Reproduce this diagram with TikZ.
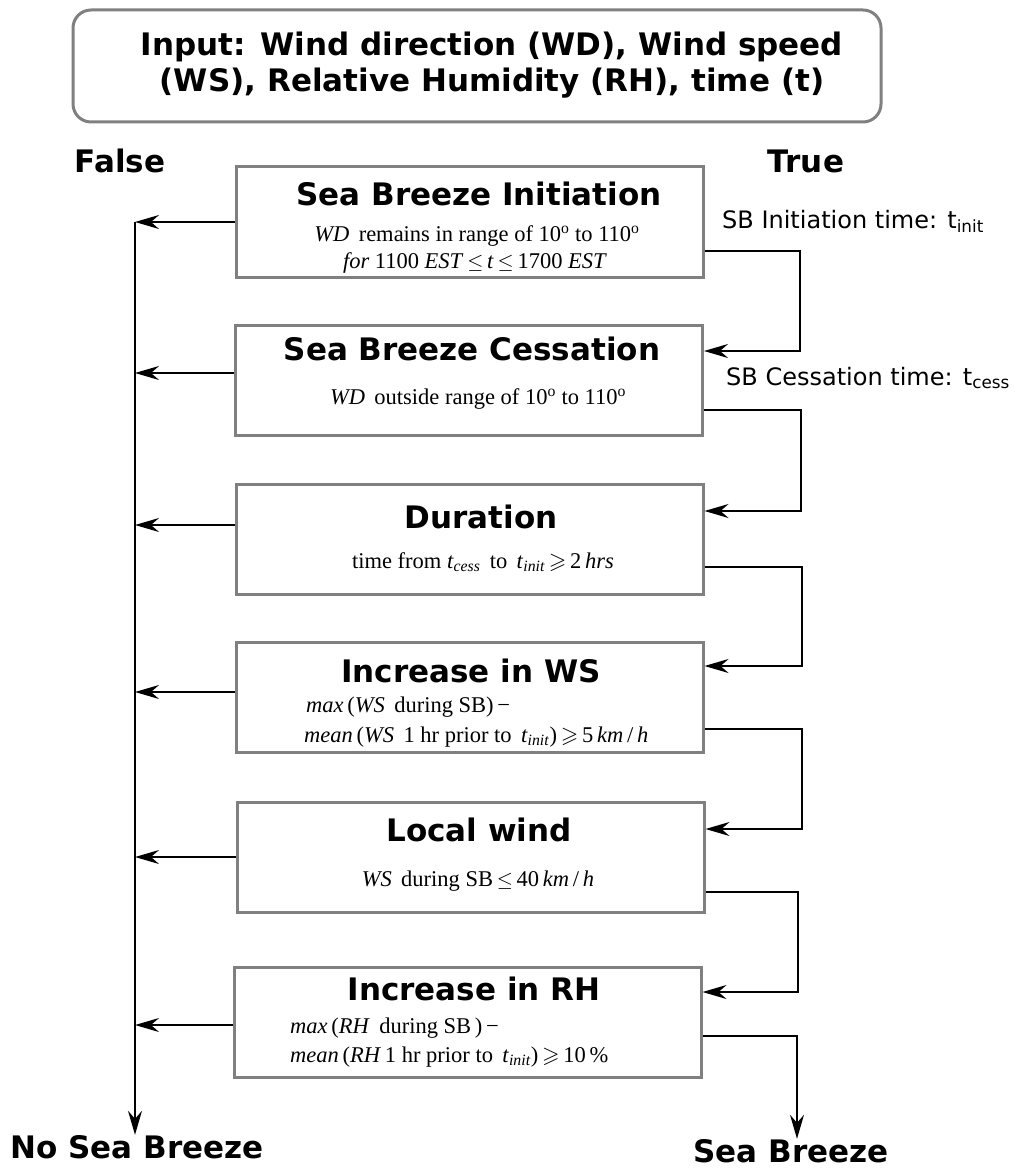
\documentclass[tikz,border=0pt]{standalone}
\usepackage{fontspec}
\usepackage{amssymb}
\setmainfont{Liberation Serif}
\newfontfamily\headfont{DejaVu Sans}
\usetikzlibrary{arrows.meta}
\definecolor{boxgray}{RGB}{128,128,128}
\tikzset{
  box/.style={draw=boxgray, line width=3pt, minimum width=467pt, minimum height=110pt, inner sep=0pt},
  head/.style={font=\headfont\bfseries\fontsize{31}{36}\selectfont, inner sep=0pt, anchor=base},
  body/.style={font=\fontsize{22.5}{27}\selectfont, inner sep=0pt, anchor=base},
  bodyl/.style={body, anchor=base west},
  lbl/.style={font=\headfont\fontsize{24}{28}\selectfont, inner sep=0pt, anchor=base west},
  flow/.style={line width=1.5pt, -{Stealth[length=24pt,width=14pt,inset=8pt]}},
}
\begin{document}
\begin{tikzpicture}[x=1pt,y=-1pt]
\useasboundingbox (0,0) rectangle (1016,1169);
\node[draw=boxgray, line width=3pt, rounded corners=18pt, minimum width=808pt, minimum height=112pt] (inbox) at (477,66){};
\node[head, anchor=center, align=center] (intxt) at (492,65){Input: Wind direction (WD), Wind speed\\(WS), Relative Humidity (RH), time (t)};
\node[head] (false) at (120,173){False};
\node[head] (true) at (806,173){True};
\node[box] (b1) at (469.5,222){};
\node[head] (h1) at (479,205){Sea Breeze Initiation};
\node[body] (d1a) at (477,241){\textit{WD}\, remains in range of 10\textsuperscript{o} to 110\textsuperscript{o}};
\node[body] (d1b) at (475,268){\textit{for} 1100 \textit{EST}\,$\leq$\,\textit{t}\,$\leq$\,1700 \textit{EST}};
\node[box] (b2) at (469,380){};
\node[head] (h2) at (472,360){Sea Breeze Cessation};
\node[body] (d2a) at (478,404){\textit{WD}\, outside range of 10\textsuperscript{o} to 110\textsuperscript{o}};
\node[box] (b3) at (469.5,539){};
\node[head] (h3) at (481,528){Duration};
\node[body] (d3a) at (483,568){time from \textit{t}\textsubscript{\textit{cess}}\, to \,\textit{t}\textsubscript{\textit{init}}\,$\geqslant$\,2\,\textit{hrs}};
\node[box] (b4) at (469.5,697){};
\node[head] (h4) at (471,682){Increase in WS};
\node[bodyl] (d4a) at (306,712){\textit{max}\,(\textit{WS}\, during SB)\,−};
\node[bodyl] (d4b) at (304,742){\textit{mean}\,(\textit{WS}\, 1 hr prior to \,\textit{t}\textsubscript{\textit{init}})\,$\geqslant$\,5\,\textit{km}\,/\,\textit{h}};
\node[box] (b5) at (470.5,857.5){};
\node[head] (h5) at (479,841){Local wind};
\node[body] (d5a) at (478,886){\textit{WS}\, during SB\,$\leq$\,40\,\textit{km}\,/\,\textit{h}};
\node[box] (b6) at (467.5,1022.5){};
\node[head] (h6) at (474,1000){Increase in RH};
\node[bodyl] (d6a) at (290,1033){\textit{max}\,(\textit{RH}\, during SB\,)\,−};
\node[bodyl] (d6b) at (290,1062){\textit{mean}\,(\textit{RH}\,1 hr prior to \,\textit{t}\textsubscript{\textit{init}})\,$\geqslant$\,10\,\%};
\node[lbl] (tinit) at (722,228){SB Initiation time: t\textsubscript{init}};
\node[lbl] (tcess) at (726,385){SB Cessation time: t\textsubscript{cess}};
\node[head] (nosb) at (137,1158){No Sea Breeze};
\node[head] (sb) at (791,1162){Sea Breeze};
\coordinate (f1) at (135,222);
\coordinate (f2) at (135,373);
\coordinate (f3) at (135,525);
\coordinate (f4) at (135,692);
\coordinate (f5) at (135,857);
\coordinate (f6) at (135,1025);
\coordinate (r1) at (800,251);
\coordinate (r2) at (801,410);
\coordinate (r3) at (802,567);
\coordinate (r4) at (802,729);
\coordinate (r5) at (798,892);
\coordinate (r6) at (797,1036);
\coordinate (e2) at (800,351);
\coordinate (e3) at (801,511);
\coordinate (e4) at (802,666);
\coordinate (e5) at (802,829);
\coordinate (e6) at (798,992);
\draw[flow] (f1) -- (f1 |- nosb.north);
\foreach \i in {1,...,6}
  \draw[flow] (b\i.west |- f\i) -- (f\i);
\foreach \i/\j in {1/2,2/3,3/4,4/5,5/6}
  \draw[flow] (b\i.east |- r\i) -- (r\i) -- (e\j) -- (b\j.east |- e\j);
\draw[flow] (b6.east |- r6) -- (r6) -- (r6 |- sb.north);
\end{tikzpicture}
\end{document}
